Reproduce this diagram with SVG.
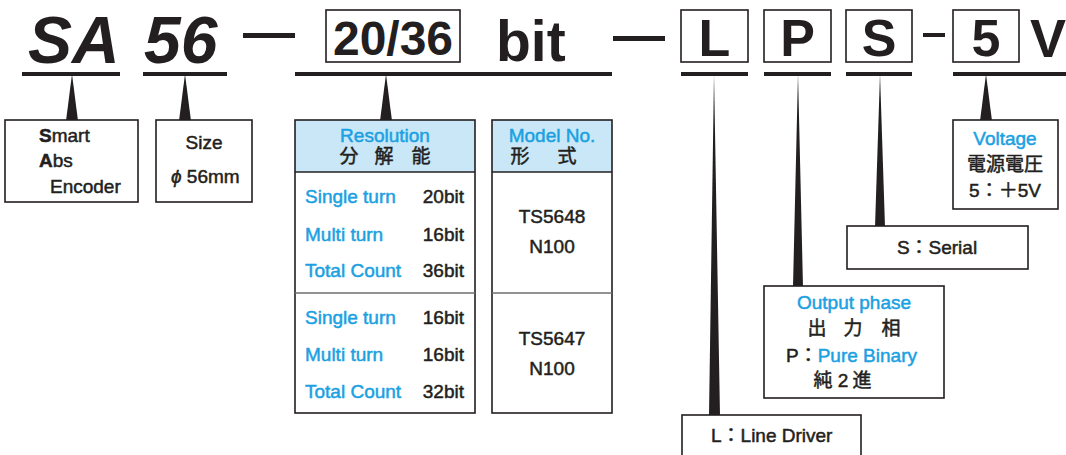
<svg xmlns="http://www.w3.org/2000/svg" width="1066" height="455" viewBox="0 0 1066 455">
<style>
text{font-family:"Liberation Sans","Noto Sans CJK JP",sans-serif;fill:#231f20}
.big{font-weight:bold;font-size:66px;font-style:italic}
.code{font-weight:bold;font-size:52px}
.t{font-size:19px;stroke:#231f20;stroke-width:0.5}
.b{fill:#1ba1e2;stroke:#1ba1e2}
.box{fill:#fff;stroke:#231f20;stroke-width:1.6}
.bar{fill:#231f20}
.mid{text-anchor:middle}
.end{text-anchor:end}
</style>
<rect width="1066" height="455" fill="#fff"/>

<g id="code">
  <text class="big" x="28" y="63">SA</text>
  <text class="big" x="144" y="63">56</text>
  <rect class="bar" x="243" y="33" width="52" height="5"/>
  <rect class="box" x="326" y="10" width="134" height="52"/>
  <text class="code mid" x="393" y="55" style="font-size:48px">20/36</text>
  <text class="code" x="496" y="61" style="font-size:57px">bit</text>
  <rect class="bar" x="613" y="36" width="52" height="5"/>
  <rect class="box" x="681" y="10" width="67" height="52"/>
  <text class="code mid" x="714.5" y="56">L</text>
  <rect class="box" x="764" y="10" width="67" height="52"/>
  <text class="code mid" x="797.5" y="56">P</text>
  <rect class="box" x="846" y="10" width="66" height="52"/>
  <text class="code mid" x="879" y="56">S</text>
  <rect class="bar" x="923" y="33" width="22" height="4"/>
  <rect class="box" x="953" y="10" width="66" height="52"/>
  <text class="code mid" x="986" y="56">5</text>
  <text class="code" x="1030" y="57" style="font-size:54px">V</text>
</g>

<g id="connectors" class="bar">
  <rect x="22" y="72" width="98" height="4"/>
  <rect x="143" y="72" width="84" height="4"/>
  <rect x="295" y="72" width="317" height="4"/>
  <rect x="681" y="72" width="67" height="4"/>
  <rect x="764" y="72" width="67" height="4"/>
  <rect x="846" y="72" width="66" height="4"/>
  <rect x="953" y="72" width="113" height="4"/>
  <polygon points="72,74 66,121 78,121"/>
  <polygon points="185,74 179,121 191,121"/>
  <polygon points="386,74 380,121 392,121"/>
  <polygon points="714,74 709,416 720,416"/>
  <polygon points="798,74 793,287 803,287"/>
  <polygon points="880,74 875,227 885,227"/>
  <polygon points="986,74 980,121 992,121"/>
</g>

<g id="node-sa">
  <rect class="box" x="5" y="120" width="133" height="82"/>
  <text class="t" x="39" y="142"><tspan font-weight="bold">S</tspan>mart</text>
  <text class="t" x="39" y="167"><tspan font-weight="bold">A</tspan>bs</text>
  <text class="t" x="50" y="193">Encoder</text>
</g>

<g id="node-size">
  <rect class="box" x="156" y="120" width="96" height="82"/>
  <text class="t mid" x="204" y="149">Size</text>
  <text class="t" x="171" y="183"><tspan font-style="italic">ϕ</tspan> 56mm</text>
</g>

<g id="node-resolution">
  <rect x="295" y="120" width="180" height="52" fill="#c9e7f7"/>
  <rect class="box" x="295" y="120" width="180" height="293" style="fill:none"/>
  <line x1="295" y1="172" x2="475" y2="172" stroke="#231f20" stroke-width="1.6"/>
  <line x1="295" y1="293" x2="475" y2="293" stroke="#6d6e71" stroke-width="1.4"/>
  <text class="t b mid" x="385" y="142">Resolution</text>
  <text class="t mid" y="163"><tspan x="349">分</tspan><tspan x="384">解</tspan><tspan x="421">能</tspan></text>
  <text class="t b" x="305" y="203">Single turn</text>
  <text class="t end" x="464" y="203">20bit</text>
  <text class="t b" x="305" y="241">Multi turn</text>
  <text class="t end" x="464" y="241">16bit</text>
  <text class="t b" x="305" y="277">Total Count</text>
  <text class="t end" x="464" y="277">36bit</text>
  <text class="t b" x="305" y="324">Single turn</text>
  <text class="t end" x="464" y="324">16bit</text>
  <text class="t b" x="305" y="361">Multi turn</text>
  <text class="t end" x="464" y="361">16bit</text>
  <text class="t b" x="305" y="398">Total Count</text>
  <text class="t end" x="464" y="398">32bit</text>
</g>

<g id="node-model">
  <rect x="492" y="120" width="120" height="52" fill="#c9e7f7"/>
  <rect class="box" x="492" y="120" width="120" height="293" style="fill:none"/>
  <line x1="492" y1="172" x2="612" y2="172" stroke="#231f20" stroke-width="1.6"/>
  <line x1="492" y1="293" x2="612" y2="293" stroke="#6d6e71" stroke-width="1.4"/>
  <text class="t b mid" x="552" y="142">Model No.</text>
  <text class="t mid" y="163"><tspan x="520">形</tspan><tspan x="567">式</tspan></text>
  <text class="t mid" x="552" y="223">TS5648</text>
  <text class="t mid" x="552" y="253">N100</text>
  <text class="t mid" x="552" y="345">TS5647</text>
  <text class="t mid" x="552" y="375">N100</text>
</g>

<g id="node-voltage">
  <rect class="box" x="953" y="120" width="105" height="89"/>
  <text class="t b mid" x="1005" y="145">Voltage</text>
  <text class="t mid" x="1005" y="171">電源電圧</text>
  <text class="t mid" x="1005" y="197">5：＋5V</text>
</g>

<g id="node-serial">
  <rect class="box" x="847" y="226" width="181" height="43"/>
  <text class="t mid" x="937" y="254">S：Serial</text>
</g>

<g id="node-output">
  <rect class="box" x="764" y="286" width="180" height="112"/>
  <text class="t b mid" x="854" y="309">Output phase</text>
  <text class="t mid" y="335"><tspan x="817">出</tspan><tspan x="853">力</tspan><tspan x="891">相</tspan></text>
  <text class="t" x="786" y="362">P：<tspan class="b">Pure Binary</tspan></text>
  <text class="t mid" y="387"><tspan x="823">純</tspan><tspan x="843">2</tspan><tspan x="862">進</tspan></text>
</g>

<g id="node-line">
  <rect class="box" x="682" y="415" width="179" height="50"/>
  <text class="t" x="711" y="442">L：Line Driver</text>
</g>
</svg>
